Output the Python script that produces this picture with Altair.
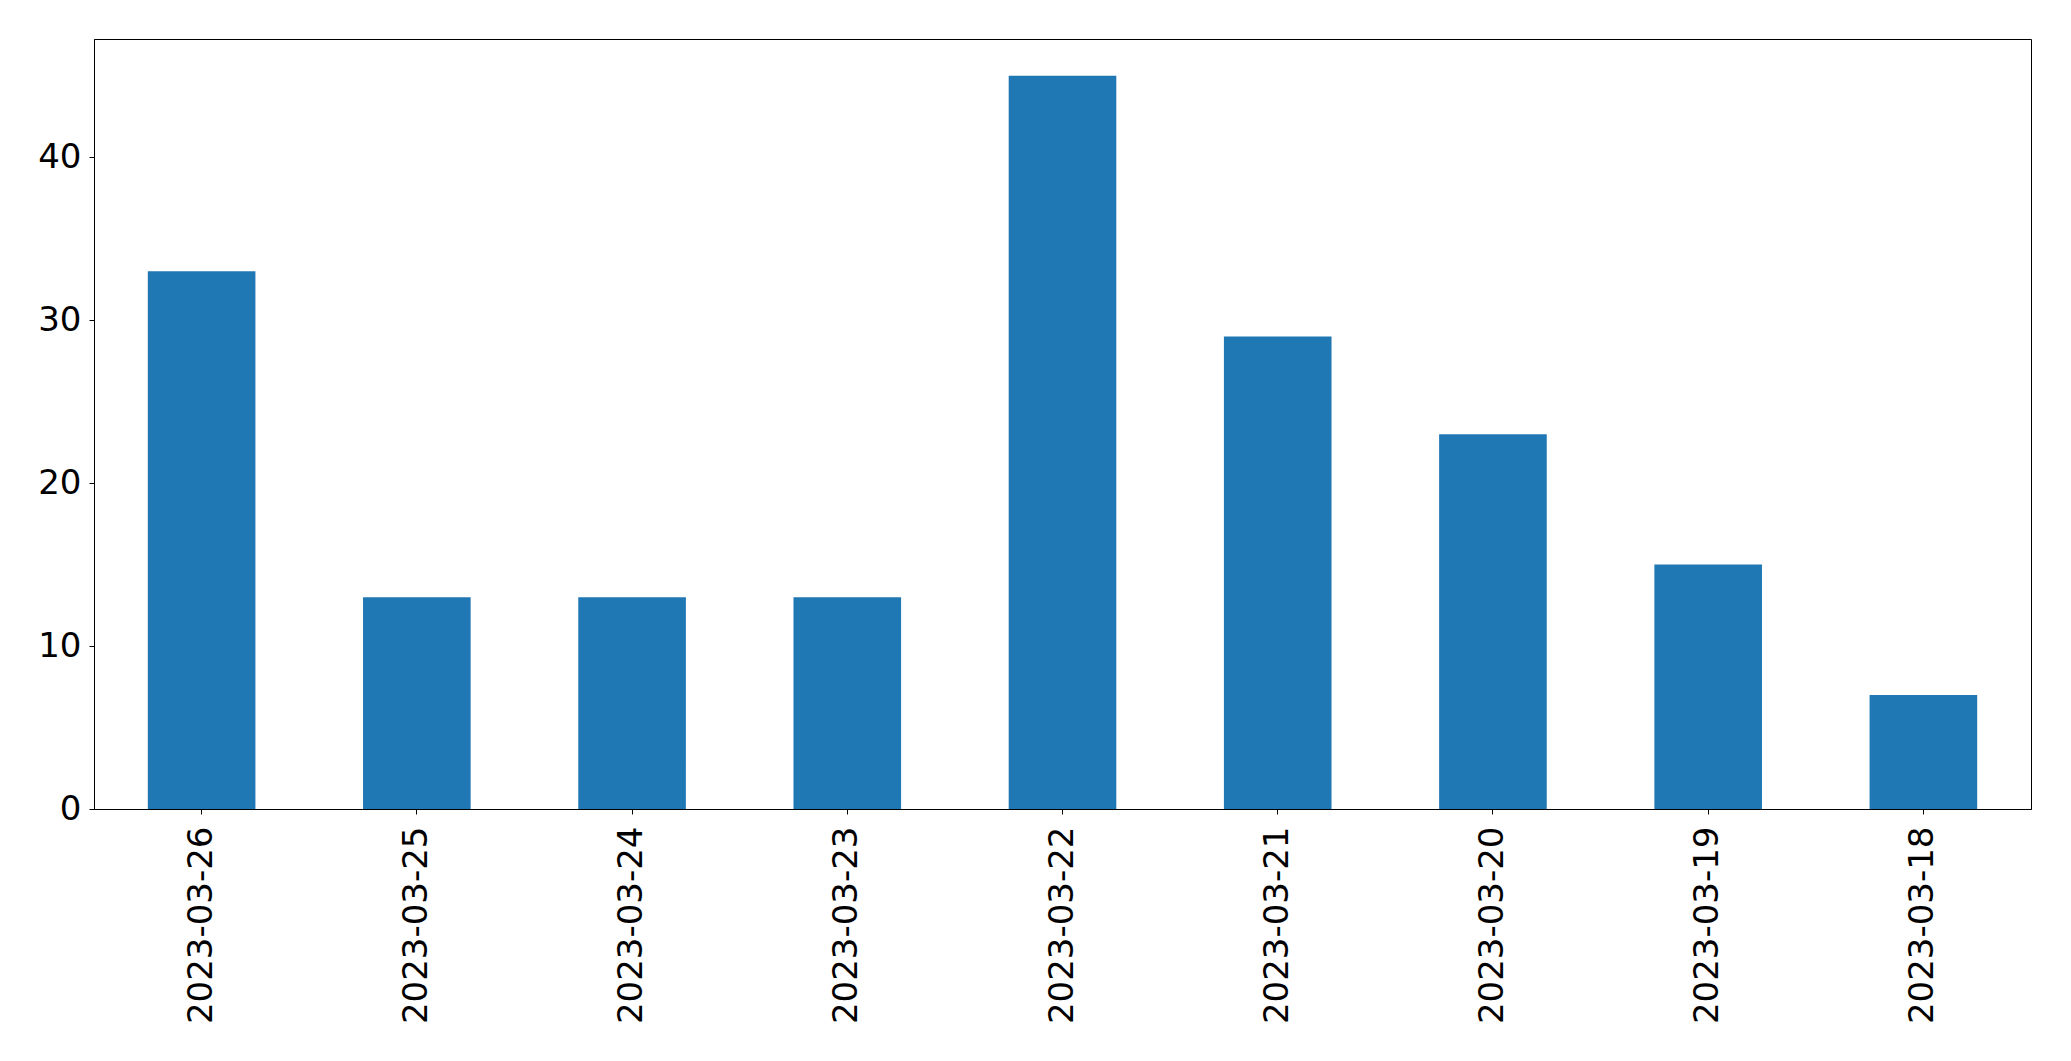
import altair as alt
import pandas as pd

dates = ["2023-03-26", "2023-03-25", "2023-03-24", "2023-03-23", "2023-03-22",
         "2023-03-21", "2023-03-20", "2023-03-19", "2023-03-18"]
counts = [33, 13, 13, 13, 45, 29, 23, 15, 7]
y_ticks = [0, 10, 20, 30, 40]

df = pd.DataFrame({"date": dates, "count": counts})

chart = alt.Chart(df).mark_bar(color="#1f77b4").encode(
    x=alt.X("date:N", sort=dates, title=None,
            scale=alt.Scale(paddingInner=0.5, paddingOuter=0.25),
            axis=alt.Axis(labelAngle=270, labelFontSize=34, labelFont="DejaVu Sans",
                          labelColor="black", tickColor="black", tickSize=5,
                          labelLimit=1000,
                          labelPadding=12, domainColor="black", domainWidth=1)),
    y=alt.Y("count:Q", title=None,
            scale=alt.Scale(domain=[0, 47.25], nice=False, zero=True),
            axis=alt.Axis(values=y_ticks, grid=False, labelFontSize=34, labelFont="DejaVu Sans",
                          labelColor="black", tickColor="black", tickSize=5,
                          labelPadding=8, domainColor="black", domainWidth=1)),
).properties(
    width=1937, height=770,
    autosize=alt.AutoSizeParams(type="none"),
    padding={"left": 86, "top": 31, "right": 30, "bottom": 232},
).configure_view(stroke="black", strokeWidth=1)

chart.save("out.html", embed_options={"renderer": "svg", "actions": False})
